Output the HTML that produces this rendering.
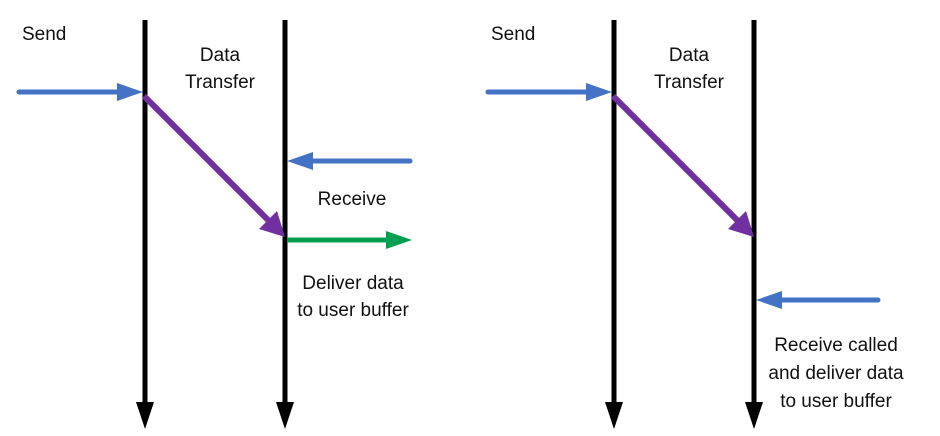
<!DOCTYPE html>
<html><head><meta charset="utf-8"><style>
html,body{margin:0;padding:0;background:#fff;width:940px;height:436px;overflow:hidden}
text{font-family:"Liberation Sans",sans-serif;font-size:19px;fill:#111}
</style></head><body>
<svg width="940" height="436" viewBox="0 0 940 436">
<g id="d">
<line x1="145" y1="20" x2="145" y2="405" stroke="#000" stroke-width="5"/>
<polygon points="136,402 154,402 145,429" fill="#000"/>
<line x1="285" y1="20" x2="285" y2="405" stroke="#000" stroke-width="5"/>
<polygon points="276,402 294,402 285,429" fill="#000"/>
<line x1="19" y1="92" x2="120" y2="92" stroke="#4472C4" stroke-width="5" stroke-linecap="round"/>
<polygon points="117,83 143,92 117,101" fill="#4472C4"/>
<line x1="144" y1="96" x2="269" y2="221" stroke="#7030A0" stroke-width="6"/>
<polygon points="259,229 277,211 285,237" fill="#7030A0"/>
<text x="22" y="40">Send</text>
<text x="220" y="61" text-anchor="middle">Data</text>
<text x="220" y="88" text-anchor="middle">Transfer</text>
</g>
<use href="#d" x="469"/>
<line x1="410" y1="161" x2="310" y2="161" stroke="#4472C4" stroke-width="5" stroke-linecap="round"/>
<polygon points="313,152 287,161 313,170" fill="#4472C4"/>
<line x1="287" y1="240" x2="390" y2="240" stroke="#00A050" stroke-width="5"/>
<polygon points="386,231 412,240 386,249" fill="#00A050"/>
<text x="352" y="205" text-anchor="middle">Receive</text>
<text x="353" y="289" text-anchor="middle">Deliver data</text>
<text x="353" y="316" text-anchor="middle">to user buffer</text>
<line x1="878" y1="300" x2="780" y2="300" stroke="#4472C4" stroke-width="5" stroke-linecap="round"/>
<polygon points="782,291 756,300 782,309" fill="#4472C4"/>
<text x="836" y="351" text-anchor="middle">Receive called</text>
<text x="836" y="379" text-anchor="middle">and deliver data</text>
<text x="836" y="407" text-anchor="middle">to user buffer</text>
</svg>
</body></html>
